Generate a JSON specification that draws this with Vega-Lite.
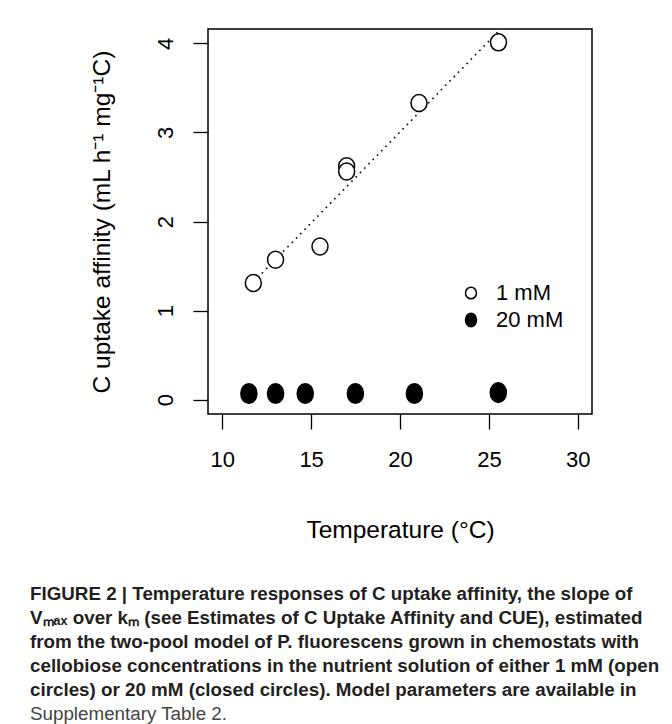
{
  "$schema": "https://vega.github.io/schema/vega-lite/v6.json",
  "autosize": {"type": "none"},
  "width": 384,
  "height": 385,
  "padding": {"left": 208, "top": 29, "right": 80, "bottom": 310},
  "background": "white",
  "config": {
    "font": "Liberation Sans",
    "view": {"stroke": "black", "strokeWidth": 1.5},
    "axis": {"grid": false, "domain": false, "tickColor": "black", "tickWidth": 1.3, "tickSize": 15, "labelFont": "Liberation Sans", "labelFontSize": 22, "labelColor": "black", "titleFont": "Liberation Sans", "titleFontSize": 24.5, "titleFontWeight": "normal", "titleColor": "black"}
  },
  "title": {
    "text": [
      "FIGURE 2 | Temperature responses of C uptake affinity, the slope of",
      "Vₘₐₓ over kₘ (see Estimates of C Uptake Affinity and CUE), estimated",
      "from the two-pool model of P. fluorescens grown in chemostats with",
      "cellobiose concentrations in the nutrient solution of either 1 mM (open",
      "circles) or 20 mM (closed circles). Model parameters are available in"
    ],
    "subtitle": "Supplementary Table 2.",
    "orient": "bottom",
    "anchor": "start",
    "frame": "group",
    "dx": -178,
    "offset": 43,
    "font": "Liberation Sans",
    "fontSize": 18.8,
    "fontWeight": "bold",
    "color": "#231f20",
    "lineHeight": 24.2,
    "subtitleFont": "Liberation Sans",
    "subtitleFontSize": 18.8,
    "subtitleFontWeight": "normal",
    "subtitleColor": "#444444",
    "subtitlePadding": 5,
    "subtitleLineHeight": 24.2
  },
  "data": {
    "values": [
      {"temp": 11.75, "affinity": 1.31, "conc": "1 mM"},
      {"temp": 13.0, "affinity": 1.57, "conc": "1 mM"},
      {"temp": 15.5, "affinity": 1.72, "conc": "1 mM"},
      {"temp": 17.0, "affinity": 2.62, "conc": "1 mM"},
      {"temp": 17.0, "affinity": 2.56, "conc": "1 mM"},
      {"temp": 21.07, "affinity": 3.33, "conc": "1 mM"},
      {"temp": 25.54, "affinity": 4.01, "conc": "1 mM"},
      {"temp": 11.5, "affinity": 0.07, "conc": "20 mM"},
      {"temp": 13.0, "affinity": 0.07, "conc": "20 mM"},
      {"temp": 14.67, "affinity": 0.07, "conc": "20 mM"},
      {"temp": 17.49, "affinity": 0.07, "conc": "20 mM"},
      {"temp": 20.81, "affinity": 0.07, "conc": "20 mM"},
      {"temp": 25.53, "affinity": 0.08, "conc": "20 mM"}
    ]
  },
  "layer": [
    {
      "transform": [
        {"filter": "datum.conc === '1 mM'"},
        {"regression": "affinity", "on": "temp"}
      ],
      "mark": {"type": "line", "color": "black", "strokeWidth": 1.6, "strokeDash": [1.6, 4.5], "strokeCap": "butt"},
      "encoding": {
        "x": {"field": "temp", "type": "quantitative"},
        "y": {"field": "affinity", "type": "quantitative"}
      }
    },
    {
      "mark": {"type": "point", "filled": true, "stroke": "black", "strokeWidth": 1.5, "opacity": 1, "size": 384},
      "encoding": {
        "x": {
          "field": "temp", "type": "quantitative",
          "scale": {"domain": [9.2, 30.8], "nice": false, "zero": false},
          "axis": {"values": [10, 15, 20, 25, 30], "labelPadding": 20, "title": "Temperature (°C)", "titlePadding": 48}
        },
        "y": {
          "field": "affinity", "type": "quantitative",
          "scale": {"domain": [-0.16, 4.16], "nice": false, "zero": false},
          "axis": {"values": [0, 1, 2, 3, 4], "format": "d", "labelAngle": -90, "labelAlign": "center", "labelBaseline": "alphabetic", "labelPadding": 21, "title": "C uptake affinity (mL h⁻¹ mg⁻¹C)", "titlePadding": 40}
        },
        "fill": {
          "field": "conc", "type": "nominal",
          "scale": {"domain": ["1 mM", "20 mM"], "range": ["white", "black"]},
          "legend": {"title": null, "orient": "none", "legendX": 252, "legendY": 253, "padding": 0, "labelFontSize": 22, "labelFont": "Liberation Sans", "labelColor": "black", "symbolSize": 180, "symbolStrokeColor": "black", "symbolStrokeWidth": 1.5, "labelOffset": 14, "rowPadding": 5}
        },
        "shape": {
          "field": "conc", "type": "nominal",
          "scale": {"domain": ["1 mM", "20 mM"], "range": ["M-0.816,0A0.816,0.867,0,1,0,0.816,0A0.816,0.867,0,1,0,-0.816,0Z", "M-0.82,0A0.82,1,0,1,0,0.82,0A0.82,1,0,1,0,-0.82,0Z"]}
        }
      }
    }
  ]
}
